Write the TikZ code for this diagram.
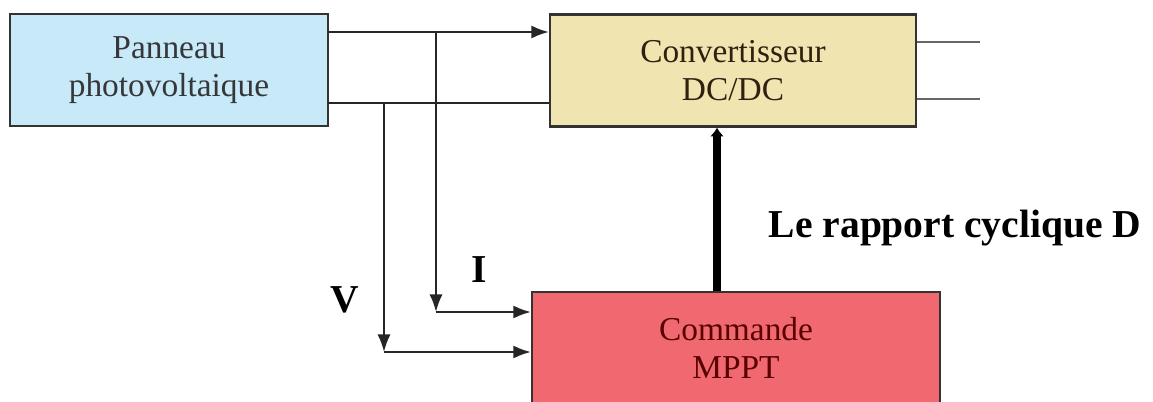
\documentclass[tikz,border=0pt]{standalone}
\usepackage{fontspec}
\setmainfont{Liberation Serif}
\usetikzlibrary{arrows.meta}
\definecolor{pvblue}{HTML}{C8E9F8}
\definecolor{convbeige}{HTML}{F0E4B0}
\definecolor{mpptred}{HTML}{F06970}
\tikzset{
  bloc/.style={draw=black!80,line width=1.3pt,minimum width=#1,minimum height=2.24cm,align=center,font=\fontsize{19}{22}\selectfont},
  fil/.style={line width=1.2pt,black!85},
  fleche/.style={fil,-{Latex[length=10pt,width=7.5pt]}},
  lbl/.style={font=\fontsize{22.5}{26}\selectfont\bfseries}
}
\begin{document}
\begin{tikzpicture}
        \useasboundingbox (0,0) rectangle (23.06,8.02);
        %% blocks
        \node[bloc=6.36cm,fill=pvblue,text=black!80!cyan!60!black] (PV) at (3.38,6.62) {Panneau\\photovoltaique};
        \node[bloc=7.32cm,fill=convbeige,text=black!75!brown] (CONV) at (14.66,6.61) {Convertisseur\\DC/DC};
        \node[bloc=8.16cm,fill=mpptred,text=red!35!black] (MPPT) at (14.72,1.06) {Commande\\MPPT};
        %% power wires
        \coordinate (PVh) at (6.56,7.38);
        \coordinate (PVb) at (6.56,5.96);
        \coordinate (CVh) at (CONV.west |- PVh);
        \coordinate (CVb) at (CONV.west |- PVb);
        \draw[fleche] (PVh) -- (CVh);
        \draw[fil] (PVb) -- (CVb);
        %% outputs
        \coordinate (Sh) at (19.6,7.18);
        \coordinate (Sb) at (19.6,6.04);
        \draw[line width=1.2pt,black!60] (CONV.east |- Sh) -- (Sh);
        \draw[line width=1.2pt,black!60] (CONV.east |- Sb) -- (Sb);
        %% measures I and V
        \coordinate (Ih) at (8.72,7.38);
        \coordinate (Ib) at (8.72,1.78);
        \coordinate (Vh) at (7.68,5.96);
        \coordinate (Vb) at (7.68,0.98);
        \draw[fleche] (Ih) -- (Ib);
        \draw[fleche] (Ib) -- (MPPT.west |- Ib);
        \draw[fleche] (Vh) -- (Vb);
        \draw[fleche] (Vb) -- (MPPT.west |- Vb);
        \node[lbl] (I) at (9.58,2.62) {I};
        \node[lbl] (V) at (6.9,2.02) {V};
        %% duty cycle
        \draw[line width=4pt,-{Latex[length=5pt,width=8pt]}] (14.34,0 |- MPPT.north) -- (14.34,0 |- CONV.south);
        \node[lbl] (D) at (19.1,3.46) {Le rapport cyclique D};
    \end{tikzpicture}
\end{document}
